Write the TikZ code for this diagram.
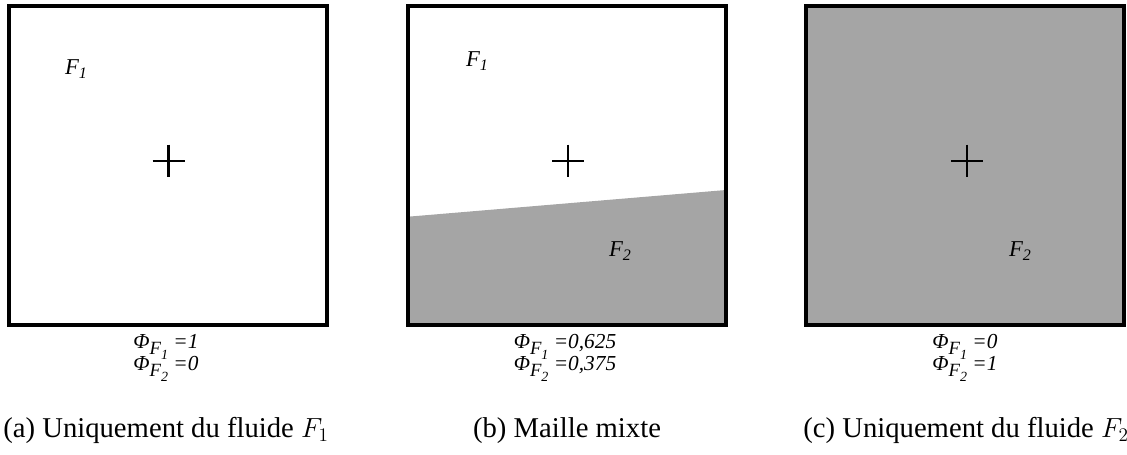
\documentclass[tikz,border=0pt]{standalone}
\usepackage{fontspec}
\setmainfont{Liberation Serif}
\definecolor{fluidgray}{RGB}{165,165,165}
\tikzset{
  cell/.style={line width=2.6pt, draw=black},
  crossline/.style={line width=2.1pt},
  lab/.style={font=\fontsize{17}{19}\selectfont\itshape, inner sep=0pt},
  phi/.style={font=\fontsize{16}{18}\selectfont\itshape, inner sep=0pt, anchor=base},
  captext/.style={font=\fontsize{21.5}{24}\selectfont, inner sep=0pt, anchor=base}
}
\newcommand{\lsub}[1]{\raisebox{-3.4pt}{\fontsize{12}{12}\selectfont #1}}
\newcommand{\fsub}[1]{F\lsub{#1}}
\newcommand{\phisub}[1]{Φ\raisebox{-4.8pt}{\fontsize{14}{14}\selectfont F\raisebox{-4pt}{\fontsize{10.5}{10}\selectfont #1}}}
\begin{document}
\begin{tikzpicture}[x=0.75pt,y=-0.75pt]
\useasboundingbox (0,0) rectangle (1127,454);
% box a
\draw[cell] (9,6) rectangle (327,325);
\draw[crossline] (152.5,161) -- (184.5,161);
\draw[crossline] (168.5,144.5) -- (168.5,177);
\node[lab] (fa1) at (76,69) {\fsub{1}};
\node[phi] (pa1) at (166,348) {\phisub{1} =1};
\node[phi] (pa2) at (166,370) {\phisub{2} =0};
\node[captext] (ca) at (166,437) {(a) Uniquement du fluide $F_1$};
% box b
\fill[fluidgray] (408,216.7) -- (726,190) -- (726,325) -- (408,325) -- cycle;
\draw[cell] (408,6) rectangle (726,325);
\draw[crossline] (552,161) -- (584,161);
\draw[crossline] (568,144.5) -- (568,177);
\node[lab] (fb1) at (477,61) {\fsub{1}};
\node[lab] (fb2) at (620,251) {\fsub{2}};
\node[phi] (pb1) at (565,348) {\phisub{1} =0,625};
\node[phi] (pb2) at (565,370) {\phisub{2} =0,375};
\node[captext] (cb) at (567,437) {(b) Maille mixte};
% box c
\fill[fluidgray] (806,6) rectangle (1124,325);
\draw[cell] (806,6) rectangle (1124,325);
\draw[crossline] (951,161) -- (983,161);
\draw[crossline] (967,144.5) -- (967,177);
\node[lab] (fc2) at (1020,251) {\fsub{2}};
\node[phi] (pc1) at (965,348) {\phisub{1} =0};
\node[phi] (pc2) at (965,370) {\phisub{2} =1};
\node[captext] (cc) at (966,437) {(c) Uniquement du fluide $F_2$};
\end{tikzpicture}
\end{document}
